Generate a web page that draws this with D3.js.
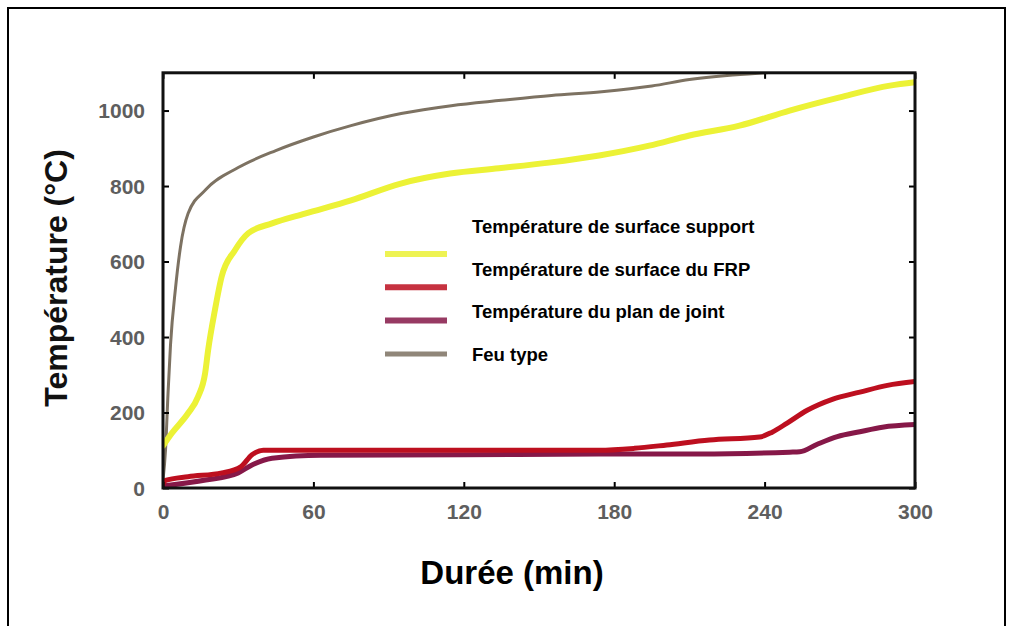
<!DOCTYPE html>
<html>
<head>
<meta charset="utf-8">
<script src="https://cdn.jsdelivr.net/npm/d3@7"></script>
<style>
  html, body { margin: 0; padding: 0; background: #ffffff; }
  svg { display: block; }
</style>
</head>
<body>
<svg id="chart" width="1013" height="626"></svg>
<script>
// ---------- data ----------
const xTicks = [0, 60, 120, 180, 240, 300];
const yTicks = [0, 200, 400, 600, 800, 1000];

const seriesNames = [
  "Température de surface support",
  "Température de surface du FRP",
  "Température du plan de joint",
  "Feu type"
];
const seriesColors = ["#ecf236", "#bd0f1f", "#861848", "#7d7262"];

// Feu type
const feuTime = [0, 1, 2, 3, 5, 7, 10, 17, 30, 45, 60, 75, 95, 115, 135, 155, 175, 195, 210, 225, 240, 270, 300];
const feuTemp = [20, 100, 250, 380, 530, 640, 727, 790, 849, 894, 930, 960, 992, 1013, 1027, 1040, 1050, 1065, 1082, 1093, 1100, 1110, 1120];

// Température de surface support (jaune)
const supportTime = [0, 3.5, 10, 14, 16.8, 18, 20.7, 23.4, 28.7, 34, 43.5, 56.6, 75, 94.5, 114.5, 134, 154, 174, 194, 210, 230, 250, 270, 290, 300];
const supportTemp = [112, 145, 198, 242, 304, 365, 471, 560, 630, 675, 701, 727, 762, 806, 833, 847, 862, 881, 907, 934, 960, 1000, 1035, 1066, 1075];

// Température de surface du FRP (rouge)
const frpTime = [0, 1, 10, 23.5, 31, 35.5, 40, 60, 120, 174, 188, 201, 218, 238, 243, 249, 257, 267, 278, 289, 300];
const frpTemp = [10, 20, 30, 40, 56, 88, 100, 100, 100, 100, 105, 114, 127, 135, 148, 172, 206, 235, 254, 272, 282];

// Température du plan de joint (violet)
const jointTime = [0, 17, 30, 35.5, 43.5, 63, 120, 174, 214, 250, 254, 261, 269, 278, 287, 300];
const jointTemp = [5, 21, 40, 61, 79, 87, 88, 90, 90, 95, 96, 116, 136, 149, 161, 168];

// ---------- layout ----------
const svg = d3.select("#chart");
const plot = { left: 163, right: 915, top: 72.8, bottom: 488 };

const x = d3.scaleLinear().domain([0, 300]).range([plot.left, plot.right]);
const y = d3.scaleLinear().domain([0, 1100]).range([plot.bottom, plot.top]);

// outer frame (bottom edge cut off in the reference)
svg.append("path")
  .attr("d", "M8,630 L8,8 L1005,8 L1005,630")
  .attr("fill", "none").attr("stroke", "#000").attr("stroke-width", 2);

// clip for curves
svg.append("defs").append("clipPath").attr("id", "plotclip")
  .append("rect")
  .attr("x", plot.left).attr("y", plot.top)
  .attr("width", plot.right - plot.left).attr("height", plot.bottom - plot.top);

const zip = (ts, vs) => ts.map((t, i) => ({ t: t, v: vs[i] }));
const series = [
  { name: seriesNames[3], color: seriesColors[3], width: 3, data: zip(feuTime, feuTemp) },
  { name: seriesNames[0], color: seriesColors[0], width: 6, data: zip(supportTime, supportTemp) },
  { name: seriesNames[2], color: seriesColors[2], width: 5, data: zip(jointTime, jointTemp) },
  { name: seriesNames[1], color: seriesColors[1], width: 5, data: zip(frpTime, frpTemp) }
];

const line = d3.line()
  .x(d => x(d.t))
  .y(d => y(d.v))
  .curve(d3.curveMonotoneX);

const g = svg.append("g").attr("clip-path", "url(#plotclip)");
series.forEach(s => {
  g.append("path")
    .datum(s.data)
    .attr("fill", "none")
    .attr("stroke", s.color)
    .attr("stroke-width", s.width)
    .attr("stroke-linejoin", "round")
    .attr("stroke-linecap", "round")
    .attr("d", line);
});

// axes: ticks pointing inward, labels outside
const tickFont = "'Liberation Sans', Arial, sans-serif";
const fmt = d3.format("d");
const xAxis = d3.axisBottom(x).tickValues(xTicks).tickFormat(fmt).tickSizeInner(-6).tickSizeOuter(0).tickPadding(16);
const yAxis = d3.axisLeft(y).tickValues(yTicks).tickFormat(fmt).tickSizeInner(-6).tickSizeOuter(0).tickPadding(18);

const gx = svg.append("g").attr("transform", `translate(0,${plot.bottom})`).call(xAxis);
const gy = svg.append("g").attr("transform", `translate(${plot.left},0)`).call(yAxis);
[gx, gy].forEach(a => {
  a.select(".domain").remove();
  a.selectAll(".tick line").attr("stroke", "#000").attr("stroke-width", 2);
  a.selectAll(".tick text")
    .attr("font-family", tickFont)
    .attr("font-size", 21)
    .attr("font-weight", "bold")
    .attr("fill", "#5e5e5e");
});
gy.selectAll(".tick text").attr("dy", "0.35em");

// mirrored ticks on top and right
svg.append("g").attr("transform", `translate(0,${plot.top})`)
  .call(d3.axisTop(x).tickValues(xTicks).tickSizeInner(-6).tickSizeOuter(0).tickFormat(""))
  .call(a => { a.select(".domain").remove(); a.selectAll(".tick line").attr("stroke", "#000").attr("stroke-width", 2); });
svg.append("g").attr("transform", `translate(${plot.right},0)`)
  .call(d3.axisRight(y).tickValues(yTicks).tickSizeInner(-6).tickSizeOuter(0).tickFormat(""))
  .call(a => { a.select(".domain").remove(); a.selectAll(".tick line").attr("stroke", "#000").attr("stroke-width", 2); });

// plot frame
svg.append("rect")
  .attr("x", plot.left).attr("y", plot.top)
  .attr("width", plot.right - plot.left).attr("height", plot.bottom - plot.top)
  .attr("fill", "none").attr("stroke", "#111").attr("stroke-width", 3);

// axis titles
svg.append("text")
  .attr("transform", `translate(67,278) rotate(-90)`)
  .attr("text-anchor", "middle")
  .attr("font-family", tickFont)
  .attr("font-size", 32)
  .attr("font-weight", "bold")
  .attr("fill", "#111")
  .text("Température (°C)");

svg.append("text")
  .attr("x", 512).attr("y", 584)
  .attr("text-anchor", "middle")
  .attr("font-family", tickFont)
  .attr("font-size", 33)
  .attr("font-weight", "bold")
  .attr("fill", "#000")
  .text("Durée (min)");

// legend: swatches and labels (labels sit slightly offset from swatches, as in the reference)
const legendOrder = [0, 1, 2, 3];
const lg = svg.append("g");
legendOrder.forEach((k, i) => {
  lg.append("line")
    .attr("x1", 385).attr("x2", 447)
    .attr("y1", 254 + i * 33.3).attr("y2", 254 + i * 33.3)
    .attr("stroke", seriesColors[k])
    .attr("stroke-width", k === 3 ? 5 : 6)
    .attr("opacity", 0.85);
  lg.append("text")
    .attr("x", 472).attr("y", 233 + i * 42.7)
    .attr("font-family", tickFont)
    .attr("font-size", 18.5)
    .attr("font-weight", "bold")
    .attr("fill", "#000")
    .text(seriesNames[k]);
});
</script>
</body>
</html>
